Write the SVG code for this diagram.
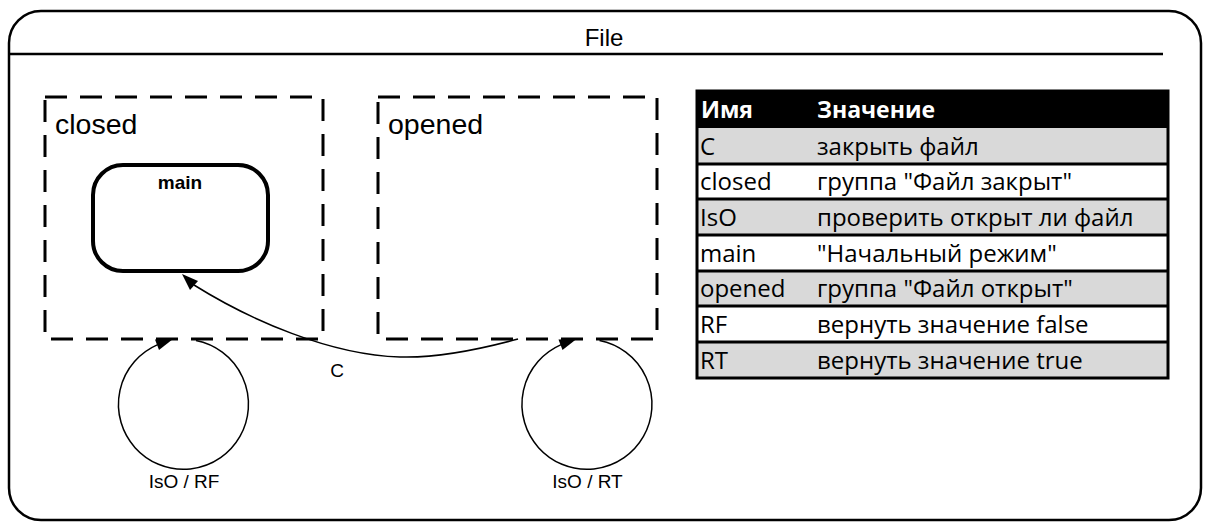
<svg xmlns="http://www.w3.org/2000/svg" width="1205" height="522" viewBox="0 0 1205 522">
  <style>
    .frame { fill: none; stroke: #000; stroke-width: 2.5; }
    .group { fill: none; stroke: #000; stroke-width: 3; stroke-dasharray: 22 13; }
    .state { fill: #fff; stroke: #000; stroke-width: 4; }
    .conn { fill: none; stroke: #000; stroke-width: 1.5; }
    .head { fill: #000; stroke: none; }
    .lbl { font-family: "Liberation Sans", Arial, sans-serif; fill: #000; }
    .cell { font-family: "Open Sans", "Noto Sans", sans-serif; font-size: 24px; fill: #000; }
    .hcell { font-family: "Open Sans", "Noto Sans", sans-serif; font-size: 23px; font-weight: bold; fill: #fff; }
    .gray { fill: #d9d9d9; }
    .white { fill: #fff; }
    .rule { stroke: #000; stroke-width: 3; }
  </style>

  <!-- outer machine frame -->
  <g id="file">
    <rect class="frame" x="9" y="11" width="1192" height="509" rx="32" ry="32"/>
    <line class="frame" x1="9" y1="54" x2="1163" y2="54"/>
    <text class="lbl" x="604" y="46" font-size="24" text-anchor="middle">File</text>
  </g>

  <g id="closed">
    <rect class="group" x="45" y="97" width="278" height="242"/>
    <text class="lbl" x="55" y="134" font-size="28.5">closed</text>
  </g>

  <g id="opened">
    <rect class="group" x="378" y="97" width="279" height="242"/>
    <text class="lbl" x="388" y="134" font-size="28.5">opened</text>
  </g>

  <g id="main">
    <rect class="state" x="93" y="165" width="175" height="106" rx="30" ry="30"/>
    <text class="lbl" x="180" y="189" font-size="19" font-weight="bold" text-anchor="middle">main</text>
  </g>

  <!-- transitions -->
  <g id="connectors">
    <!-- C : opened -> main -->
    <path class="conn" d="M518,339 C470,352 430,358 400,357 C330,355 250,320 194,285"/>
    <polygon class="head" points="182,274 198,281 190,290"/>
    <text class="lbl" x="337" y="377" font-size="19" text-anchor="middle">C</text>

    <!-- IsO / RF : closed self loop -->
    <path class="conn" d="M196,340.5 A65,65 0 1 1 157.7,344.6"/>
    <polygon class="head" points="173,339 159,350 155,339.5"/>
    <text class="lbl" x="184" y="488" font-size="19" text-anchor="middle">IsO / RF</text>

    <!-- IsO / RT : opened self loop -->
    <path class="conn" d="M599.5,340.5 A65,65 0 1 1 561.2,344.6"/>
    <polygon class="head" points="576.5,339 562.5,350 558.5,339.5"/>
    <text class="lbl" x="587.5" y="488" font-size="19" text-anchor="middle">IsO / RT</text>
  </g>

  <!-- legend table -->
  <g id="legend">
    <rect x="697" y="91" width="471" height="37" fill="#000"/>
    <rect class="gray" x="697" y="128" width="471" height="36"/>
    <rect class="white" x="697" y="164" width="471" height="35"/>
    <rect class="gray" x="697" y="199" width="471" height="36"/>
    <rect class="white" x="697" y="235" width="471" height="36"/>
    <rect class="gray" x="697" y="271" width="471" height="35"/>
    <rect class="white" x="697" y="306" width="471" height="36"/>
    <rect class="gray" x="697" y="342" width="471" height="36"/>
    <line class="rule" x1="697" y1="164" x2="1168" y2="164"/>
    <line class="rule" x1="697" y1="199" x2="1168" y2="199"/>
    <line class="rule" x1="697" y1="235" x2="1168" y2="235"/>
    <line class="rule" x1="697" y1="271" x2="1168" y2="271"/>
    <line class="rule" x1="697" y1="306" x2="1168" y2="306"/>
    <line class="rule" x1="697" y1="342" x2="1168" y2="342"/>
    <rect x="697" y="91" width="471" height="287" fill="none" stroke="#000" stroke-width="3"/>

    <text class="hcell" x="701" y="118">Имя</text>
    <text class="hcell" x="817" y="118">Значение</text>

    <text class="cell" x="700" y="155">C</text>
    <text class="cell" x="817" y="155">закрыть файл</text>
    <text class="cell" x="700" y="190">closed</text>
    <text class="cell" x="817" y="190">группа "Файл закрыт"</text>
    <text class="cell" x="700" y="226">IsO</text>
    <text class="cell" x="817" y="226">проверить открыт ли файл</text>
    <text class="cell" x="700" y="262">main</text>
    <text class="cell" x="817" y="262">"Начальный режим"</text>
    <text class="cell" x="700" y="297">opened</text>
    <text class="cell" x="817" y="297">группа "Файл открыт"</text>
    <text class="cell" x="700" y="333">RF</text>
    <text class="cell" x="817" y="333">вернуть значение false</text>
    <text class="cell" x="700" y="369">RT</text>
    <text class="cell" x="817" y="369">вернуть значение true</text>
  </g>
</svg>
